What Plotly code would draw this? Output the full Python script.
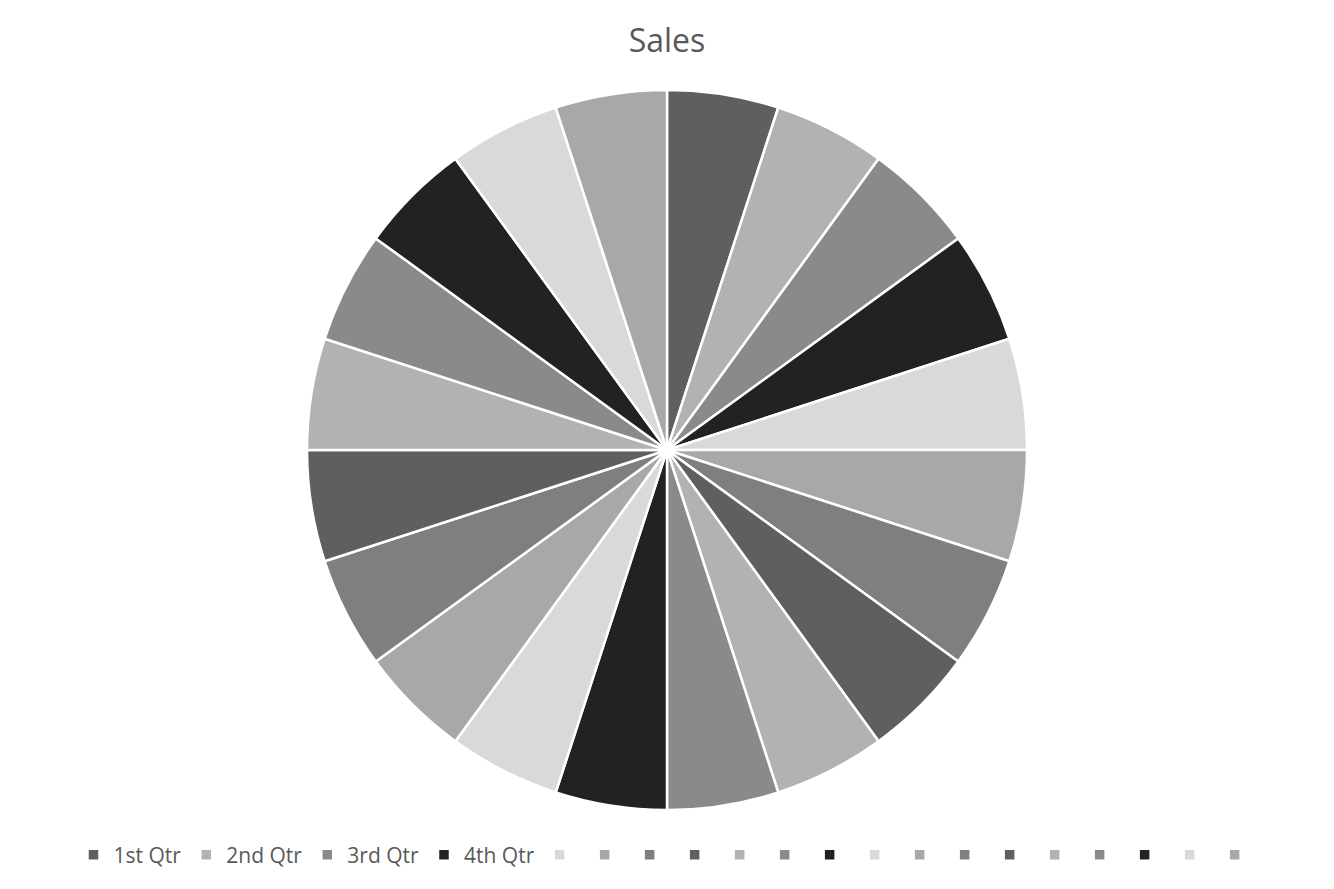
import plotly.graph_objects as go

labels = ["1st Qtr", "2nd Qtr", "3rd Qtr", "4th Qtr"] + ["\u200b" * k for k in range(1, 17)]
values = [1] * 20
colors = ["#5f5f5f", "#b2b2b2", "#8a8a8a", "#222222", "#d9d9d9", "#a8a8a8", "#7f7f7f",
          "#5f5f5f", "#b2b2b2", "#8a8a8a", "#222222", "#d9d9d9", "#a8a8a8", "#7f7f7f",
          "#5f5f5f", "#b2b2b2", "#8a8a8a", "#222222", "#d9d9d9", "#a8a8a8"]

fig = go.Figure(go.Pie(
    labels=labels, values=values, sort=False, direction="clockwise", rotation=0,
    marker=dict(colors=colors, line=dict(color="white", width=2.5)),
    textinfo="none", hoverinfo="label+value",
))
fig.update_layout(
    width=1334, height=889,
    margin=dict(l=0, r=0, t=90, b=79),
    paper_bgcolor="white", plot_bgcolor="white",
    font=dict(family="Open Sans", color="#595959"),
    title=dict(text="Sales", x=0.5, xanchor="center", y=1 - 41 / 889, yanchor="middle",
               font=dict(size=32, color="#595959")),
    showlegend=True,
    legend=dict(orientation="h", x=0.5, xanchor="center", y=-0.0625, yanchor="middle",
                font=dict(size=21, color="#595959"), itemwidth=30, traceorder="normal"),
)
fig.write_html("out.html")
